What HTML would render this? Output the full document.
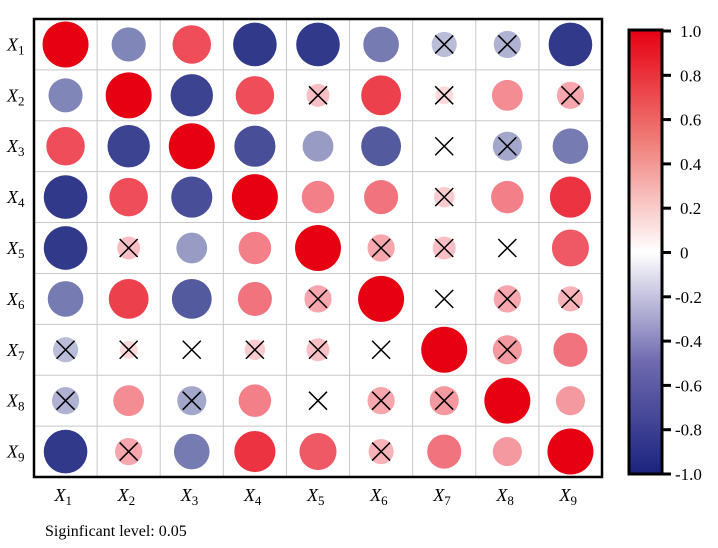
<!DOCTYPE html>
<html><head><meta charset="utf-8"><style>
body{margin:0;background:#fff;}
svg{display:block;font-family:"Liberation Serif",serif;}
</style></head><body>
<svg id="chart" width="718" height="548">
<defs>
<linearGradient id="cb" x1="0" y1="1" x2="0" y2="0">
<stop offset="0" stop-color="rgb(26,35,126)"/>
<stop offset="0.25" stop-color="rgb(110,105,175)"/>
<stop offset="0.5" stop-color="#ffffff"/>
<stop offset="0.75" stop-color="rgb(240,125,120)"/>
<stop offset="1" stop-color="rgb(230,0,18)"/>
</linearGradient>
</defs>
<g id="grid"></g>
<g id="marks"></g>
<rect x="34" y="19" width="568" height="458" fill="none" stroke="#000" stroke-width="2.5"/>
<g id="labels"></g>
<rect x="629" y="30" width="33" height="444" fill="url(#cb)" stroke="#000" stroke-width="3"/>
<g id="cbticks"></g>
<text x="45" y="536" font-size="16">Siginficant level: 0.05</text>
</svg>
<script>
const labels=["1","2","3","4","5","6","7","8","9"];
const corr=[
[1,-0.55,0.7,-0.9,-0.9,-0.6,-0.3,-0.35,-0.9],
[-0.55,1,-0.85,0.7,0.25,0.75,0.15,0.45,0.35],
[0.7,-0.85,1,-0.8,-0.45,-0.75,0,-0.4,-0.6],
[-0.9,0.7,-0.8,1,0.5,0.55,0.2,0.5,0.8],
[-0.9,0.25,-0.45,0.5,1,0.35,0.25,0,0.65],
[-0.6,0.75,-0.75,0.55,0.35,1,0,0.35,0.3],
[-0.3,0.15,0,0.2,0.25,0,1,0.4,0.55],
[-0.35,0.45,-0.4,0.5,0,0.35,0.4,1,0.4],
[-0.9,0.35,-0.6,0.8,0.65,0.3,0.55,0.4,1]];
const insig=[
[0,0,0,0,0,0,1,1,0],
[0,0,0,0,1,0,1,0,1],
[0,0,0,0,0,0,1,1,0],
[0,0,0,0,0,0,1,0,0],
[0,1,0,0,0,1,1,1,0],
[0,0,0,0,1,0,1,1,1],
[1,1,1,1,1,1,0,1,0],
[1,0,1,0,1,1,1,0,0],
[0,1,0,0,0,1,0,0,0]];
const cbTicks=["1.0","0.8","0.6","0.4","0.2","0","-0.2","-0.4","-0.6","-0.8","-1.0"];
const NS="http://www.w3.org/2000/svg";
const X0=34,Y0=19,W=568,H=458,n=labels.length,cw=W/n,ch=H/n,RMAX=23;
const cx=j=>X0+cw*(j+0.5), cy=i=>Y0+ch*(i+0.5);
function col(v){const a=Math.min(1,Math.abs(v));
 const end=v>=0?[230,0,18]:[26,35,126];
 const c=end.map(e=>Math.round(255+(e-255)*a));return `rgb(${c})`;}
function mk(t,a,p){const e=document.createElementNS(NS,t);for(const k in a)e.setAttribute(k,a[k]);(p||document.getElementById('chart')).appendChild(e);return e;}
const grid=document.getElementById('grid'),marks=document.getElementById('marks'),lab=document.getElementById('labels');
for(let k=1;k<n;k++){
 let l=mk('line',{x1:X0+cw*k,x2:X0+cw*k,y1:Y0,y2:Y0+H,stroke:'#c8c8c8','stroke-width':1},grid);
 
 
 l=mk('line',{x1:X0,x2:X0+W,y1:Y0+ch*k,y2:Y0+ch*k,stroke:'#c8c8c8','stroke-width':1},grid);
 
 
}
for(let i=0;i<n;i++)for(let j=0;j<n;j++){
 const v=corr[i][j],r=RMAX*Math.sqrt(Math.abs(v));
 if(r>0.5){const c=mk('circle',{cx:cx(j),cy:cy(i),r:r,fill:col(v)},marks);
 
 }
 if(insig[i][j]){const s=9;
 const g=mk('path',{d:`M${cx(j)-s},${cy(i)-s}L${cx(j)+s},${cy(i)+s}M${cx(j)+s},${cy(i)-s}L${cx(j)-s},${cy(i)+s}`,stroke:'#000','stroke-width':1.5,fill:'none'},marks);
 
 }
}
for(let k=0;k<n;k++){
 let t=mk('text',{x:7,y:cy(k)+6,'font-size':18,'font-style':'italic'},lab);
 t.innerHTML=`X<tspan font-size="13" font-style="normal" dy="4">${labels[k]}</tspan>`;
 
 
 t=mk('text',{x:cx(k)-11,y:501,'font-size':18,'font-style':'italic'},lab);
 t.innerHTML=`X<tspan font-size="13" font-style="normal" dy="4">${labels[k]}</tspan>`;
 
 
}
const cbg=document.getElementById('cbticks'),TY0=31,TY1=474;
cbTicks.forEach((s,k)=>{const y=TY0+(TY1-TY0)*k/(cbTicks.length-1);
 const l=mk('line',{x1:662,x2:671,y1:y,y2:y,stroke:'#000','stroke-width':3},cbg);
 
 
 const t=mk('text',{x:s.startsWith('-')?675:680,y:y+6,'font-size':17},cbg);
 t.textContent=s;
 
 
});
</script>
</body></html>
